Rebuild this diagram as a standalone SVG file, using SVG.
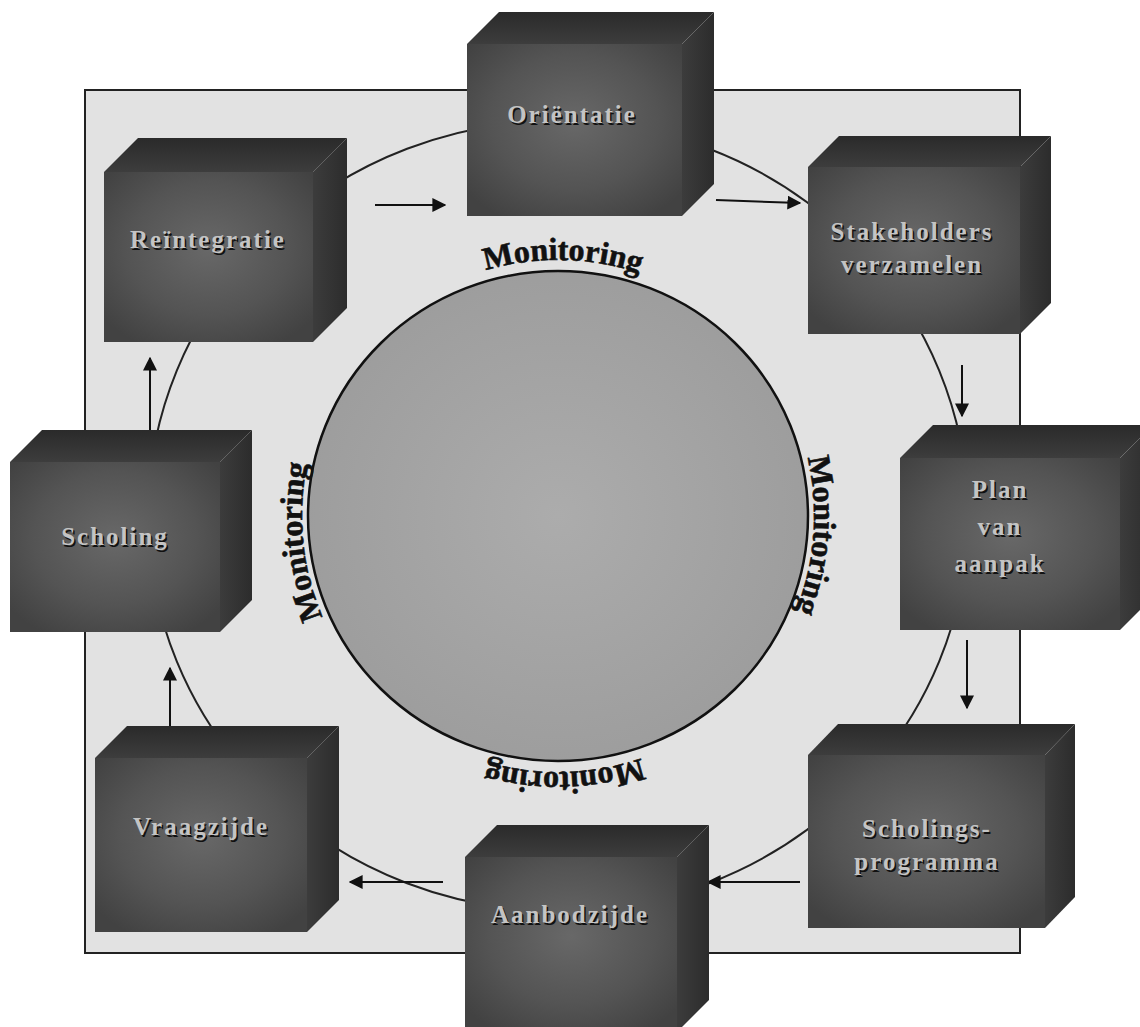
<svg xmlns="http://www.w3.org/2000/svg" width="1140" height="1027" viewBox="0 0 1140 1027">
<defs>
<style>
.face{fill:url(#front)}
.top{fill:url(#topg)}
.side{fill:url(#sideg)}
.lbl{font-family:"Liberation Serif","DejaVu Serif",serif;font-weight:bold;font-size:25px;letter-spacing:2px;text-anchor:middle}
.sh{fill:#111}
.fg{fill:#c4c4c4}
.mon{font-family:"Liberation Serif","DejaVu Serif",serif;font-weight:bold;font-size:32px;fill:#111;stroke:#111;stroke-width:0.6;text-anchor:middle}
.arr{stroke:#111;stroke-width:2;fill:none;marker-end:url(#ah)}
</style>
<radialGradient id="front" cx="50%" cy="45%" r="65%">
<stop offset="0" stop-color="#686868"/>
<stop offset="0.6" stop-color="#545454"/>
<stop offset="1" stop-color="#424242"/>
</radialGradient>
<linearGradient id="topg" x1="0" y1="0" x2="0" y2="1">
<stop offset="0" stop-color="#2a2a2a"/>
<stop offset="1" stop-color="#3d3d3d"/>
</linearGradient>
<linearGradient id="sideg" x1="0" y1="0" x2="1" y2="0">
<stop offset="0" stop-color="#3c3c3c"/>
<stop offset="1" stop-color="#2c2c2c"/>
</linearGradient>
<radialGradient id="inner" cx="50%" cy="50%" r="55%">
<stop offset="0" stop-color="#acacac"/>
<stop offset="1" stop-color="#9c9c9c"/>
</radialGradient>
<marker id="ah" viewBox="0 0 10 10" refX="9" refY="5" markerWidth="14" markerHeight="14" markerUnits="userSpaceOnUse" orient="auto">
<path d="M0,0 L10,5 L0,10 z" fill="#111"/>
</marker>
<path id="cA" d="M302,516 A256,256 0 0 1 814,516 A256,256 0 0 1 302,516"/>
<path id="cB" d="M558,772 A256,256 0 0 1 558,260 A256,256 0 0 1 558,772"/>
</defs>
<rect width="1140" height="1027" fill="#fff"/>
<g id="background">
<rect x="85" y="90" width="935" height="863" fill="#e2e2e2" stroke="#222" stroke-width="2"/>
<ellipse cx="558" cy="516" rx="410" ry="395" fill="none" stroke="#222" stroke-width="2"/>
<ellipse cx="558" cy="516" rx="250" ry="245" fill="url(#inner)" stroke="#111" stroke-width="2.5"/>
</g>
<g id="monitoring">
<text class="mon"><textPath href="#cA" startOffset="25.3%">Monitoring</textPath></text>
<text class="mon"><textPath href="#cA" startOffset="51.2%">Monitoring</textPath></text>
<text class="mon"><textPath href="#cA" startOffset="74.6%">Monitoring</textPath></text>
<text class="mon"><textPath href="#cB" startOffset="23.4%">Monitoring</textPath></text>
</g>
<g id="connectors">
<line class="arr" x1="375" y1="205" x2="445" y2="205"/>
<line class="arr" x1="716" y1="200" x2="800" y2="203"/>
<line class="arr" x1="962" y1="365" x2="962" y2="416"/>
<line class="arr" x1="967" y1="640" x2="967" y2="708"/>
<line class="arr" x1="800" y1="882" x2="708" y2="882"/>
<line class="arr" x1="443" y1="882" x2="350" y2="882"/>
<line class="arr" x1="170" y1="730" x2="170" y2="668"/>
<line class="arr" x1="150" y1="432" x2="150" y2="358"/>
</g>
<g id="n-orientatie">
<polygon class="top" points="467,44 499,12 714,12 682,44"/>
<polygon class="side" points="682,44 714,12 714,184 682,216"/>
<rect class="face" x="467" y="44" width="215" height="172"/>
<text class="lbl sh" x="573.5" y="124.5">Oriëntatie</text>
<text class="lbl fg" x="572" y="123">Oriëntatie</text>
</g>
<g id="n-stakeholders">
<polygon class="top" points="808,167 839,136 1051,136 1020,167"/>
<polygon class="side" points="1020,167 1051,136 1051,303 1020,334"/>
<rect class="face" x="808" y="167" width="212" height="167"/>
<text class="lbl sh" x="913.5" y="241.5">Stakeholders</text>
<text class="lbl fg" x="912" y="240">Stakeholders</text>
<text class="lbl sh" x="913.5" y="274.5">verzamelen</text>
<text class="lbl fg" x="912" y="273">verzamelen</text>
</g>
<g id="n-plan">
<polygon class="top" points="900,458 933,425 1153,425 1120,458"/>
<polygon class="side" points="1120,458 1153,425 1153,597 1120,630"/>
<rect class="face" x="900" y="458" width="220" height="172"/>
<text class="lbl sh" x="1001.5" y="499.5">Plan</text>
<text class="lbl fg" x="1000" y="498">Plan</text>
<text class="lbl sh" x="1001.5" y="536.5">van</text>
<text class="lbl fg" x="1000" y="535">van</text>
<text class="lbl sh" x="1001.5" y="573.5">aanpak</text>
<text class="lbl fg" x="1000" y="572">aanpak</text>
</g>
<g id="n-scholingsprogramma">
<polygon class="top" points="808,755 838,724 1075,724 1045,755"/>
<polygon class="side" points="1045,755 1075,724 1075,897 1045,928"/>
<rect class="face" x="808" y="755" width="237" height="173"/>
<text class="lbl sh" x="928.5" y="838.5">Scholings-</text>
<text class="lbl fg" x="927" y="837">Scholings-</text>
<text class="lbl sh" x="928.5" y="871.5">programma</text>
<text class="lbl fg" x="927" y="870">programma</text>
</g>
<g id="n-aanbodzijde">
<polygon class="top" points="465,857 497,825 709,825 677,857"/>
<polygon class="side" points="677,857 709,825 709,1000 677,1032"/>
<rect class="face" x="465" y="857" width="212" height="175"/>
<text class="lbl sh" x="571.5" y="924.5">Aanbodzijde</text>
<text class="lbl fg" x="570" y="923">Aanbodzijde</text>
</g>
<g id="n-vraagzijde">
<polygon class="top" points="95,758 127,726 339,726 307,758"/>
<polygon class="side" points="307,758 339,726 339,900 307,932"/>
<rect class="face" x="95" y="758" width="212" height="174"/>
<text class="lbl sh" x="202.5" y="836.5">Vraagzijde</text>
<text class="lbl fg" x="201" y="835">Vraagzijde</text>
</g>
<g id="n-scholing">
<polygon class="top" points="10,462 42,430 252,430 220,462"/>
<polygon class="side" points="220,462 252,430 252,600 220,632"/>
<rect class="face" x="10" y="462" width="210" height="170"/>
<text class="lbl sh" x="116.5" y="546.5">Scholing</text>
<text class="lbl fg" x="115" y="545">Scholing</text>
</g>
<g id="n-reintegratie">
<polygon class="top" points="104,172 138,138 347,138 313,172"/>
<polygon class="side" points="313,172 347,138 347,308 313,342"/>
<rect class="face" x="104" y="172" width="209" height="170"/>
<text class="lbl sh" x="209.5" y="249.5">Reïntegratie</text>
<text class="lbl fg" x="208" y="248">Reïntegratie</text>
</g>
</svg>
